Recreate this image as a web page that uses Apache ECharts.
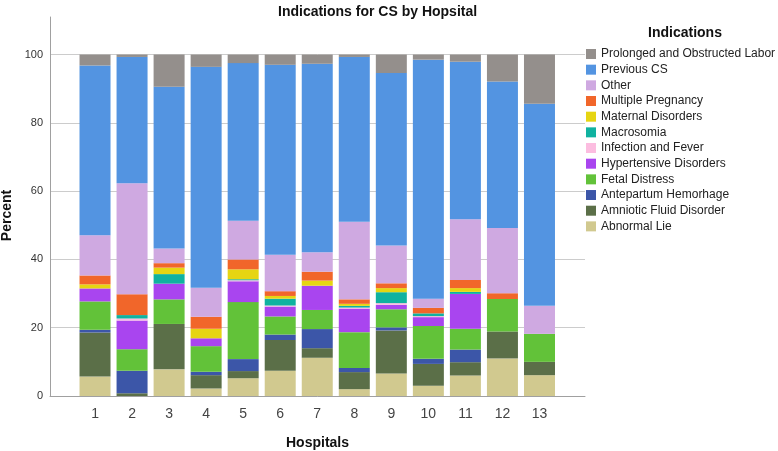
<!DOCTYPE html>
<html>
<head>
<meta charset="utf-8">
<script src="https://cdn.jsdelivr.net/npm/echarts@6/dist/echarts.min.js"></script>
<style>
html,body{margin:0;padding:0;background:#fff;}
#chart{width:778px;height:451px;}
</style>
</head>
<body>
<div id="chart"></div>
<script>
const hospitals = ['1', '2', '3', '4', '5', '6', '7', '8', '9', '10', '11', '12', '13'];
const yTicks = [0, 20, 40, 60, 80, 100];

const abnormalLie   = [5.7, 0, 7.8, 2.2, 5.2, 7.4, 11.2, 2.0, 6.6, 3.0, 6.0, 11.0, 6.1];
const amnioticFluid = [12.9, 0.8, 13.3, 3.9, 2.1, 9.0, 2.8, 5.0, 12.6, 6.4, 3.9, 7.9, 3.9];
const antepartum    = [0.8, 6.6, 0, 1.0, 3.5, 1.6, 5.6, 1.2, 0.9, 1.5, 3.7, 0, 0];
const fetalDistress = [8.3, 6.3, 7.2, 7.5, 16.7, 5.3, 5.6, 10.5, 5.3, 9.6, 6.1, 9.5, 8.2];
const hypertensive  = [3.8, 8.4, 4.6, 2.3, 6.1, 2.9, 7.1, 6.9, 1.3, 2.6, 10.2, 0, 0];
const infection     = [0, 0.6, 0, 0, 0.3, 0.3, 0, 0.3, 0.5, 0.3, 0, 0, 0];
const macrosomia    = [0, 1.0, 2.8, 0, 0.3, 2.0, 0, 0.5, 3.2, 0.8, 0.6, 0, 0];
const maternal      = [1.2, 0, 1.9, 2.8, 2.9, 0.8, 1.5, 0.6, 1.2, 0, 1.1, 0, 0];
const multiple      = [2.6, 6.1, 1.3, 3.5, 2.9, 1.4, 2.6, 1.3, 1.4, 1.6, 2.4, 1.7, 0];
const other         = [11.8, 32.5, 4.3, 8.5, 11.3, 10.7, 5.7, 22.7, 11.1, 2.7, 17.8, 19.1, 8.2];
const previousCS    = [49.7, 37.0, 47.4, 64.7, 46.2, 55.6, 55.2, 48.3, 50.5, 70.0, 46.1, 42.9, 59.2];
const prolonged     = [3.2, 0.7, 9.4, 3.6, 2.5, 3.0, 2.7, 0.7, 5.4, 1.5, 2.1, 7.9, 14.4];

const seriesDefs = [
  ['Abnormal Lie', abnormalLie, '#d1c98f'],
  ['Amniotic Fluid Disorder', amnioticFluid, '#5b6f48'],
  ['Antepartum Hemorhage', antepartum, '#3c56a8'],
  ['Fetal Distress', fetalDistress, '#62c239'],
  ['Hypertensive Disorders', hypertensive, '#a945ef'],
  ['Infection and Fever', infection, '#fcbde0'],
  ['Macrosomia', macrosomia, '#10b2a0'],
  ['Maternal Disorders', maternal, '#e6d512'],
  ['Multiple Pregnancy', multiple, '#f1662a'],
  ['Other', other, '#cfa9e1'],
  ['Previous CS', previousCS, '#5394e1'],
  ['Prolonged and Obstructed Labor', prolonged, '#948f8c']
];

const chart = echarts.init(document.getElementById('chart'), null, {renderer: 'canvas'});
const font = 'Liberation Sans, Arial, sans-serif';
const yMax = 111;

chart.setOption({
  animation: false,
  backgroundColor: '#ffffff',
  textStyle: {fontFamily: font},
  title: [
    {text: 'Indications for CS by Hopsital', left: 273, top: 0,
     textStyle: {fontSize: 14, fontWeight: 'bold', color: '#111', fontFamily: font}},
    {text: 'Indications', left: 680, top: 21, textAlign: 'center',
     textStyle: {fontSize: 14, fontWeight: 'bold', color: '#111', fontFamily: font}}
  ],
  legend: {
    orient: 'vertical', left: 586, top: 48, padding: 0,
    itemWidth: 10, itemHeight: 10, itemGap: 3.67,
    icon: 'rect',
    data: seriesDefs.map(d => d[0]).reverse(),
    textStyle: {fontSize: 12, color: '#222', fontFamily: font}
  },
  grid: [
    {left: 50, right: 193, top: 17, bottom: 55, containLabel: false, outerBoundsMode: 'none'},
    {left: 76.5, right: 220, top: 17, bottom: 55, containLabel: false, outerBoundsMode: 'none'}
  ],
  xAxis: [
    {
      gridIndex: 0, type: 'value', min: 0, max: 1,
      name: 'Hospitals', nameLocation: 'middle', nameGap: 40,
      nameTextStyle: {fontSize: 14, fontWeight: 'bold', color: '#111', fontFamily: font},
      axisLine: {show: true, lineStyle: {color: '#a0a0a0', width: 1}},
      axisTick: {show: false}, axisLabel: {show: false}, splitLine: {show: false}
    },
    {
      gridIndex: 1, type: 'category', data: hospitals,
      axisLine: {show: false}, axisTick: {show: false}, splitLine: {show: false},
      axisLabel: {fontSize: 14, color: '#444', margin: 11, fontFamily: font}
    }
  ],
  yAxis: [
    {
      gridIndex: 0, type: 'value', min: 0, max: yMax,
      name: 'Percent', nameLocation: 'middle', nameGap: 35, nameRotate: 90,
      nameTextStyle: {fontSize: 14, fontWeight: 'bold', color: '#111', fontFamily: font, padding: [0, 18, 0, 0]},
      axisLine: {show: true, lineStyle: {color: '#a0a0a0', width: 1}},
      axisTick: {show: false},
      axisLabel: {customValues: yTicks, fontSize: 11, color: '#333', margin: 7, fontFamily: font},
      splitLine: {show: true, showMaxLine: false, lineStyle: {color: '#cccccc', width: 1}}
    },
    {
      gridIndex: 1, type: 'value', min: 0, max: yMax, show: false,
      splitLine: {show: false}
    }
  ],
  series: seriesDefs.map(([name, vals, color]) => ({
    name: name,
    type: 'bar',
    xAxisIndex: 1, yAxisIndex: 1,
    stack: 'total',
    barWidth: 31,
    itemStyle: {color: color},
    emphasis: {disabled: true},
    data: vals
  }))
});
</script>
</body>
</html>
